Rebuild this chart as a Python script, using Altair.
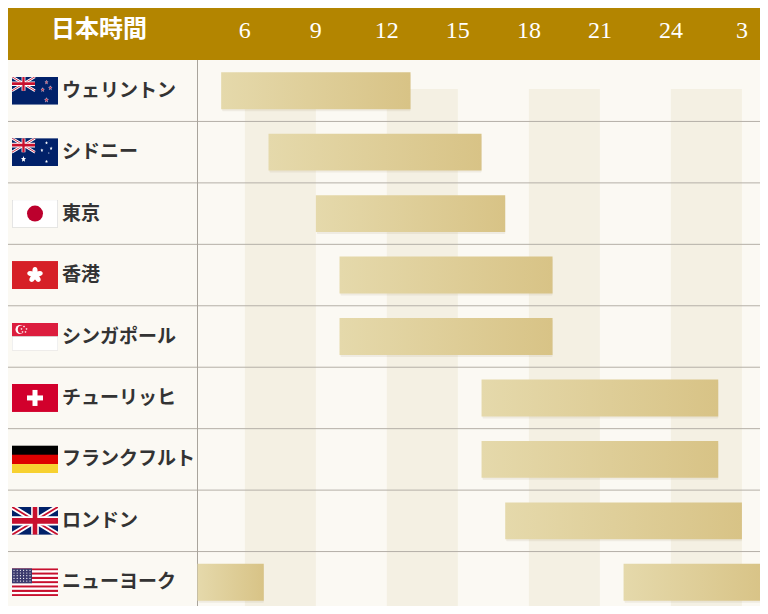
import base64
import math
import pandas as pd
import altair as alt

# %% data
cities = ['ウェリントン', 'シドニー', '東京', '香港', 'シンガポール',
          'チューリッヒ', 'フランクフルト', 'ロンドン', 'ニューヨーク']
flag_codes = ['nz', 'au', 'jp', 'hk', 'sg', 'ch', 'de', 'uk', 'us']
open_hours = [5, 7, 9, 10, 10, 16, 16, 17, 22]
close_hours = [13, 16, 17, 19, 19, 26, 26, 27, 30.8]

hour_ticks = [6, 9, 12, 15, 18, 21, 24, 27]
hour_labels = ['6', '9', '12', '15', '18', '21', '24', '3']
stripe_starts = [6, 12, 18, 24]
stripe_ends = [9, 15, 21, 27]

# page margin is 8px on every side, so the chart is 752x598 and
# chart coords = picture coords - 8
W, H = 752, 598
HEAD = 52
LEFT = 189.5
DOMAIN = [4, 28]

# %% flags as small inline svgs
UJ = ('<rect width="60" height="30" fill="#012169"/>'
      '<path d="M0,0 L60,30 M60,0 L0,30" stroke="#fff" stroke-width="6"/>'
      '<path d="M0,0 L60,30 M60,0 L0,30" stroke="#C8102E" stroke-width="2"/>'
      '<path d="M30,0 v30 M0,15 h60" stroke="#fff" stroke-width="10"/>'
      '<path d="M30,0 v30 M0,15 h60" stroke="#C8102E" stroke-width="6"/>')


def star(cx, cy, r, fill, stroke='none'):
    pts = []
    for k in range(10):
        rr = r if k % 2 == 0 else r * 0.45
        a = math.pi / 2 + k * math.pi / 5
        pts.append('%.2f,%.2f' % (cx + rr * math.cos(a), cy - rr * math.sin(a)))
    return '<polygon points="%s" fill="%s" stroke="%s" stroke-width="1"/>' % (' '.join(pts), fill, stroke)


def svg(body, vw, vh):
    s = ('<svg xmlns="http://www.w3.org/2000/svg" viewBox="0 0 %d %d" '
         'preserveAspectRatio="none" width="46" height="28">%s</svg>' % (vw, vh, body))
    return 'data:image/svg+xml;base64,' + base64.b64encode(s.encode()).decode()


flags = {
    'nz': svg('<rect width="120" height="60" fill="#012169"/>' + UJ
              + star(90, 50, 5, '#C8102E', '#fff') + star(80, 28, 4.5, '#C8102E', '#fff')
              + star(100, 24, 4.5, '#C8102E', '#fff') + star(90, 12, 4, '#C8102E', '#fff'), 120, 60),
    'au': svg('<rect width="120" height="60" fill="#012169"/>' + UJ
              + star(30, 45, 7, '#fff') + star(90, 50, 4, '#fff') + star(78, 26, 4, '#fff')
              + star(90, 10, 4, '#fff') + star(102, 22, 4, '#fff') + star(96, 32, 2, '#fff'), 120, 60),
    'jp': svg('<rect width="46" height="28" fill="#fff" stroke="#ccc" stroke-width="1"/>'
              '<circle cx="23" cy="14" r="8" fill="#bc002d"/>', 46, 28),
    'hk': svg('<rect width="46" height="28" fill="#d62027"/><g transform="translate(23,14)">'
              + ''.join('<ellipse cx="0" cy="-4" rx="2.6" ry="4" fill="#fff" transform="rotate(%d)"/>' % (72 * k)
                        for k in range(5)) + '</g>', 46, 28),
    'sg': svg('<rect width="46" height="14" fill="#dc1d3e"/>'
              '<rect y="14" width="46" height="14" fill="#fff" stroke="#ccc" stroke-width="0.6"/>'
              '<circle cx="8" cy="7" r="4.5" fill="#fff"/><circle cx="9.8" cy="7" r="4" fill="#dc1d3e"/>'
              + star(12, 4, 1.2, '#fff') + star(14.5, 6.5, 1.2, '#fff') + star(13.5, 9.5, 1.2, '#fff')
              + star(10.5, 9.5, 1.2, '#fff') + star(9.5, 6.5, 1.2, '#fff'), 46, 28),
    'ch': svg('<rect width="46" height="28" fill="#d2002c"/>'
              '<rect x="20.5" y="6" width="5" height="16" fill="#fff"/>'
              '<rect x="15" y="11.5" width="16" height="5" fill="#fff"/>', 46, 28),
    'de': svg('<rect width="46" height="10" fill="#000"/><rect y="9.33" width="46" height="9.34" fill="#dd0000"/>'
              '<rect y="18.67" width="46" height="9.33" fill="#f7d130"/>', 46, 28),
    'uk': svg(UJ, 60, 30),
    'us': svg(''.join('<rect y="%.3f" width="46" height="2.154" fill="%s"/>'
                      % (i * 28 / 13, '#c8102e' if i % 2 == 0 else '#fff') for i in range(13))
              + '<rect width="20" height="15" fill="#3c3b6e"/>'
              + ''.join('<circle cx="%.1f" cy="%.1f" r="0.6" fill="#fff"/>' % (2 + 3.2 * c, 2 + 2.7 * r)
                        for r in range(5) for c in range(6)), 46, 28),
}

# %% frames
rows = pd.DataFrame({'city': cities, 'flag': [flags[c] for c in flag_codes]})

segs = []
for c, o, e in zip(cities, open_hours, close_hours):
    if e > DOMAIN[1]:
        segs.append({'city': c, 'start': o, 'end': DOMAIN[1]})
        segs.append({'city': c, 'start': DOMAIN[0], 'end': e - 24})
    else:
        segs.append({'city': c, 'start': o, 'end': e})
segs = pd.DataFrame(segs)

stripes = pd.DataFrame({'s': stripe_starts, 'e': stripe_ends})
ticks = pd.DataFrame({'hour': hour_ticks, 'label': hour_labels})
one = pd.DataFrame({'k': [0]})

xs = alt.Scale(domain=DOMAIN, range=[LEFT, LEFT + 24 * 23.67])
ys = alt.Scale(domain=cities, range=[HEAD, 605], paddingInner=0, paddingOuter=0)

JP_FONT = 'Noto Sans CJK JP'

# %% layers
stripe_layer = alt.Chart(stripes).mark_rect(color='#f4f0e3', clip=True).encode(
    x=alt.X('s:Q', scale=xs, axis=None),
    x2='e:Q',
    y=alt.value(81),
    y2=alt.value(H)
)

lines = alt.Chart(rows).mark_rule(color='#b4afa7', strokeWidth=1).encode(
    y=alt.Y('city:N', scale=ys, axis=None, bandPosition=1),
    x=alt.value(0),
    x2=alt.value(W)
)

vline = alt.Chart(one).mark_rule(color='#a9a49c', strokeWidth=1).encode(
    x=alt.value(LEFT), y=alt.value(HEAD), y2=alt.value(H)
)

shadow = alt.Chart(segs).mark_bar(
    color='#8a7a50', opacity=0.10, height=alt.RelativeBandSize(0.6), xOffset=1, yOffset=2,
    cornerRadius=1, clip=True
).encode(
    x=alt.X('start:Q', scale=xs, axis=None),
    x2='end:Q',
    y=alt.Y('city:N', scale=ys, axis=None)
)

bars = alt.Chart(segs).mark_bar(
    height=alt.RelativeBandSize(0.6), clip=True,
    color=alt.LinearGradient(
        gradient='linear', x1=0, x2=1, y1=0, y2=0,
        stops=[alt.GradientStop(color='#e5d9ab', offset=0),
               alt.GradientStop(color='#d8c386', offset=1)])
).encode(
    x=alt.X('start:Q', scale=xs, axis=None),
    x2='end:Q',
    y=alt.Y('city:N', scale=ys, axis=None)
)

flag_layer = alt.Chart(rows).mark_image(width=46, height=28, align='center', baseline='middle').encode(
    x=alt.value(27),
    y=alt.Y('city:N', scale=ys, axis=None),
    url='flag:N'
)

names = alt.Chart(rows).mark_text(
    align='left', baseline='middle', font=JP_FONT, fontSize=19, fontWeight='bold', color='#333333'
).encode(
    x=alt.value(54),
    y=alt.Y('city:N', scale=ys, axis=None),
    text='city:N'
)

header = alt.Chart(one).mark_rect(color='#b38500').encode(
    x=alt.value(0), x2=alt.value(W), y=alt.value(0), y2=alt.value(HEAD)
)

head_title = alt.Chart(one).mark_text(
    text='日本時間', font=JP_FONT, fontSize=24, fontWeight='bold', color='#ffffff', baseline='middle'
).encode(x=alt.value(91), y=alt.value(22))

head_ticks = alt.Chart(ticks).mark_text(
    font='Liberation Serif', fontSize=24, color='#ffffff', baseline='middle'
).encode(
    x=alt.X('hour:Q', scale=xs, axis=None),
    y=alt.value(23),
    text='label:N'
)

chart = alt.layer(
    stripe_layer, lines, vline, shadow, bars, flag_layer, names, header, head_title, head_ticks
).properties(
    width=W, height=H, padding=0, autosize=alt.AutoSizeParams(type='none'),
    background='#fbf9f3'
).configure_view(stroke=None)

chart.save("out.html", embed_options={"renderer": "svg", "actions": False})
